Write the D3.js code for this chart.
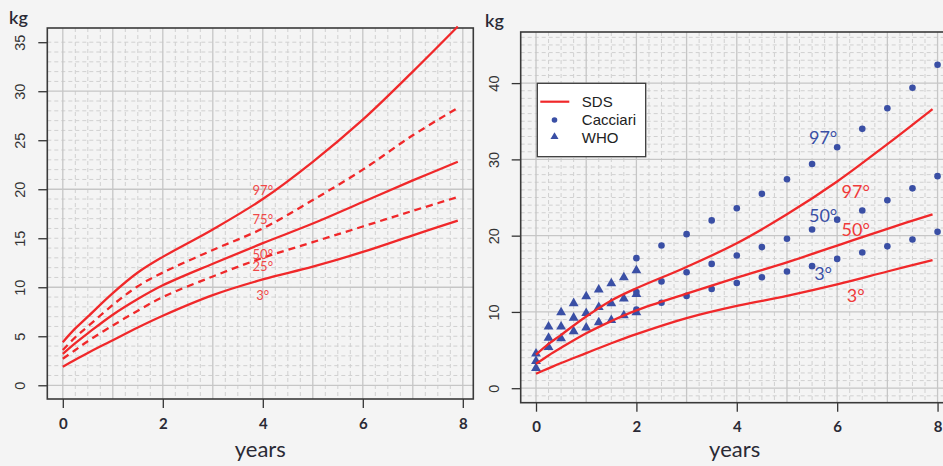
<!DOCTYPE html>
<html>
<head>
<meta charset="utf-8">
<script src="https://cdn.jsdelivr.net/npm/d3@7"></script>
<style>
  body { margin: 0; background: #f4f4f4; }
  svg { display: block; }
</style>
</head>
<body>
<script>
// SDS percentile curves (kg), read at these ages (years)
var ages = [0, 0.25, 0.5, 1, 1.5, 2, 3, 4, 5, 6, 7, 7.9];
var p3  = [1.9, 2.6, 3.3, 4.6, 5.9, 7.1, 9.2, 10.8, 12.1, 13.6, 15.3, 16.8];
var p25 = [2.7, 3.6, 4.5, 6.1, 7.6, 9.0, 11.1, 13.0, 14.6, 16.2, 17.8, 19.2];
var p50 = [3.2, 4.3, 5.3, 7.2, 8.8, 10.2, 12.4, 14.5, 16.5, 18.7, 20.9, 22.8];
var p75 = [3.6, 4.9, 6.0, 8.2, 10.1, 11.5, 13.8, 16.0, 18.9, 22.0, 25.5, 28.3];
var p97 = [4.4, 5.8, 7.0, 9.4, 11.5, 13.1, 15.9, 19.0, 22.8, 27.1, 32.0, 36.6];

// Cacciari reference points
var cacciariAges = [2, 2.5, 3, 3.5, 4, 4.5, 5, 5.5, 6, 6.5, 7, 7.5, 8];
var cacciari3  = [10.3, 11.2, 12.1, 13.0, 13.8, 14.55, 15.3, 16.0, 16.95, 17.8, 18.6, 19.5, 20.5];
var cacciari50 = [12.6, 14.0, 15.2, 16.3, 17.4, 18.5, 19.6, 20.8, 22.1, 23.3, 24.65, 26.2, 27.8];
var cacciari97 = [17.05, 18.7, 20.2, 22.0, 23.6, 25.5, 27.4, 29.4, 31.6, 34.0, 36.7, 39.4, 42.4];

// WHO reference points
var whoAges = [0, 0.25, 0.5, 0.75, 1, 1.25, 1.5, 1.75, 2];
var who3  = [2.5, 5.25, 6.4, 7.3, 7.8, 8.5, 8.8, 9.4, 9.8];
var who50 = [3.4, 6.45, 7.95, 9.1, 9.7, 10.5, 11.0, 11.6, 12.2];
var who97 = [4.4, 7.95, 9.8, 11.0, 11.9, 12.8, 13.6, 14.4, 15.3];

// tick labels
var xTicks = [0, 2, 4, 6, 8];
var leftYTicks = [0, 5, 10, 15, 20, 25, 30, 35];
var rightYTicks = [0, 10, 20, 30, 40];

// curve labels
var leftLabels = ['97°', '75°', '50°', '25°', '3°'];
var leftLabelKg = [19.9, 16.9, 13.4, 12.1, 9.2];
var leftLabelAge = 4;
var rightLabels = ['97°', '50°', '3°'];
var sdsLabelKg = [25.8, 20.85, 12.1];
var sdsLabelAge = 6.37;
var cacciariLabelKg = [32.9, 22.6, 15.0];
var cacciariLabelAge = 5.72;

var legendNames = ['SDS', 'Cacciari', 'WHO'];

const WIDTH = 943;
const HEIGHT = 466;
const RED = '#f0282a';
const BLUE = '#3a4fa5';
const INK = '#2a2a35';

var zip = function(xs, ys){
  return xs.map(function(x, i){ return {x: x, y: ys[i]}; });
};

var svg = d3.select('body').append('svg')
  .attr('width', WIDTH)
  .attr('height', HEIGHT);

svg.append('rect')
  .attr('width', WIDTH).attr('height', HEIGHT)
  .attr('fill', '#f4f4f4');

var drawPanel = function(p){
  var x = d3.scaleLinear().domain(p.xDomain).range([p.left, p.right]);
  var y = d3.scaleLinear().domain(p.yDomain).range([p.bottom, p.top]);
  var g = svg.append('g');

  // grid: dashed minor, solid major
  var minorX = d3.range(0.25, 8.01, 0.25).filter(function(v){ return v % 1 !== 0; });
  var minorY = d3.range(p.minorY[0], p.minorY[1] + 1, 1).filter(function(v){ return v % 10 !== 0; });
  var majorX = d3.range(0, 9, 1);
  var majorY = d3.range(0, p.yDomain[1], 10);

  g.selectAll('.minx').data(minorX).enter().append('line')
    .attr('x1', x).attr('x2', x).attr('y1', p.top).attr('y2', p.bottom)
    .attr('stroke', '#d0d0d0').attr('stroke-width', 1).attr('stroke-dasharray', '4,3');
  g.selectAll('.miny').data(minorY).enter().append('line')
    .attr('y1', y).attr('y2', y).attr('x1', p.left).attr('x2', p.right)
    .attr('stroke', '#d0d0d0').attr('stroke-width', 1).attr('stroke-dasharray', '4,3');
  g.selectAll('.majx').data(majorX).enter().append('line')
    .attr('x1', x).attr('x2', x).attr('y1', p.top).attr('y2', p.bottom)
    .attr('stroke', '#c6c6c6').attr('stroke-width', 1.3);
  g.selectAll('.majy').data(majorY).enter().append('line')
    .attr('y1', y).attr('y2', y).attr('x1', p.left).attr('x2', p.right)
    .attr('stroke', '#c6c6c6').attr('stroke-width', 1.3);

  // axes
  var yAxis = d3.axisLeft(y).tickValues(p.yTicks).tickSize(9);
  var ya = g.append('g').attr('transform', 'translate(' + p.left + ',0)').call(yAxis);
  ya.select('.domain').remove();
  ya.selectAll('line').attr('stroke', '#333').attr('stroke-width', 1.3);
  ya.selectAll('text')
    .attr('x', 0).attr('y', 0).attr('dy', '0.36em')
    .attr('transform', 'translate(' + (p.yLabelX - p.left) + ',0) rotate(-90)')
    .attr('text-anchor', 'middle')
    .style('font-family', '"Liberation Sans", Arial, sans-serif')
    .style('font-size', '14.5px')
    .attr('fill', '#333');

  var xAxis = d3.axisBottom(x).tickValues(xTicks).tickSize(9).tickPadding(10);
  var xa = g.append('g').attr('transform', 'translate(0,' + p.bottom + ')').call(xAxis);
  xa.select('.domain').remove();
  xa.selectAll('line').attr('stroke', '#333').attr('stroke-width', 1.3);
  xa.selectAll('text')
    .style('font-family', 'Lato, sans-serif')
    .style('font-size', '15px')
    .style('font-weight', 700)
    .attr('fill', INK);

  // box
  g.append('rect')
    .attr('x', p.left).attr('y', p.top)
    .attr('width', p.right - p.left).attr('height', p.bottom - p.top)
    .attr('fill', 'none').attr('stroke', '#3a3a3a').attr('stroke-width', 1.6);

  g.append('text')
    .attr('x', (p.left + p.right) / 2).attr('y', 457)
    .attr('text-anchor', 'middle')
    .style('font-family', 'Lato, sans-serif').style('font-size', '22px')
    .attr('fill', INK)
    .text('years');
  g.append('text')
    .attr('x', p.kgX).attr('y', p.kgY)
    .attr('text-anchor', 'middle')
    .style('font-family', 'Lato, sans-serif').style('font-size', '18px').style('font-weight', 600)
    .attr('fill', INK)
    .text('kg');

  return {g: g, x: x, y: y};
};

var drawCurve = function(panel, xs, ys, dashed){
  var line = d3.line()
    .x(function(d){ return panel.x(d.x); })
    .y(function(d){ return panel.y(d.y); })
    .curve(d3.curveCatmullRom.alpha(0.5));
  panel.g.append('path')
    .attr('d', line(zip(xs, ys)))
    .attr('fill', 'none')
    .attr('stroke', RED)
    .attr('stroke-width', 2.3)
    .attr('stroke-dasharray', dashed ? '7,5' : null);
};

var drawLabels = function(panel, names, age, kgs, color, size){
  panel.g.selectAll(null).data(names).enter().append('text')
    .attr('x', panel.x(age))
    .attr('y', function(d, i){ return panel.y(kgs[i]); })
    .attr('dy', '0.36em')
    .attr('text-anchor', 'middle')
    .style('font-family', 'Lato, sans-serif')
    .style('font-size', size + 'px')
    .attr('fill', color)
    .text(function(d){ return d; });
};

var triangle = d3.symbol().type(d3.symbolTriangle).size(42);

var renderChart = function(){
  var left = drawPanel({
    xDomain: [-0.31, 8.21], yDomain: [-1.4, 36.45],
    left: 47.3, right: 473.3, top: 28, bottom: 399,
    yTicks: leftYTicks, minorY: [0, 35], yLabelX: 20,
    kgX: 18.5, kgY: 24
  });
  drawCurve(left, ages, p3, false);
  drawCurve(left, ages, p25, true);
  drawCurve(left, ages, p50, false);
  drawCurve(left, ages, p75, true);
  drawCurve(left, ages, p97, false);
  drawLabels(left, leftLabels, leftLabelAge, leftLabelKg, '#f04848', 13);

  var right = drawPanel({
    xDomain: [-0.305, 8.22], yDomain: [-1.9, 46.7],
    left: 520.7, right: 948.6, top: 32, bottom: 402.7,
    yTicks: rightYTicks, minorY: [-1, 46], yLabelX: 494,
    kgX: 494.5, kgY: 27
  });

  [who3, who50, who97].forEach(function(vals){
    right.g.selectAll(null).data(zip(whoAges, vals)).enter().append('path')
      .attr('d', triangle)
      .attr('transform', function(d){ return 'translate(' + right.x(d.x) + ',' + (right.y(d.y) - 1) + ')'; })
      .attr('fill', BLUE);
  });
  [cacciari3, cacciari50, cacciari97].forEach(function(vals){
    right.g.selectAll(null).data(zip(cacciariAges, vals)).enter().append('circle')
      .attr('cx', function(d){ return right.x(d.x); })
      .attr('cy', function(d){ return right.y(d.y); })
      .attr('r', 3.3)
      .attr('fill', BLUE);
  });

  drawCurve(right, ages, p3, false);
  drawCurve(right, ages, p50, false);
  drawCurve(right, ages, p97, false);
  drawLabels(right, rightLabels, sdsLabelAge, sdsLabelKg, '#f03a3a', 18);
  drawLabels(right, rightLabels, cacciariLabelAge, cacciariLabelKg, BLUE, 18);

  // legend
  var lg = svg.append('g').attr('transform', 'translate(537.3,83.3)');
  lg.append('rect')
    .attr('width', 108.4).attr('height', 73.4)
    .attr('fill', '#ffffff').attr('stroke', '#3a3a3a').attr('stroke-width', 1.3);
  lg.append('line')
    .attr('x1', 3).attr('x2', 32).attr('y1', 18.4).attr('y2', 18.4)
    .attr('stroke', RED).attr('stroke-width', 2.2);
  lg.append('circle').attr('cx', 17.2).attr('cy', 36.7).attr('r', 2.8).attr('fill', BLUE);
  lg.append('path')
    .attr('d', d3.symbol().type(d3.symbolTriangle).size(28))
    .attr('transform', 'translate(17.2,53.5)')
    .attr('fill', BLUE);
  lg.selectAll('.lt').data(legendNames).enter().append('text')
    .attr('x', 44.5)
    .attr('y', function(d, i){ return 18.4 + i * 18 + 5.3; })
    .style('font-family', '"Liberation Sans", Arial, sans-serif')
    .style('font-size', '15px')
    .attr('fill', '#222')
    .text(function(d){ return d; });
};

renderChart();
</script>
</body>
</html>
